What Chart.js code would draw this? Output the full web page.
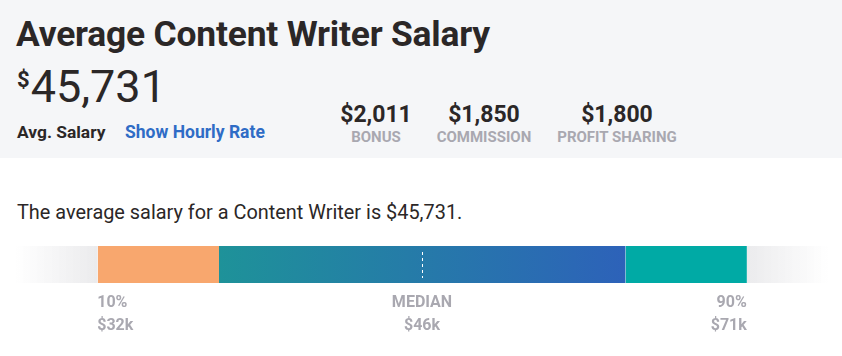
<!DOCTYPE html>
<html>
<head>
<meta charset="utf-8">
<script src="https://cdn.jsdelivr.net/npm/chart.js@4.4.1/dist/chart.umd.min.js"></script>
<style>
  html, body { margin:0; padding:0; width:842px; height:356px; background:#fff; overflow:hidden; font-family: Roboto, "Open Sans", sans-serif; }
  #head { position:absolute; left:0; top:0; width:842px; height:158px; background:#f5f6f8; }
  .t { position:absolute; white-space:nowrap; }
  #title { left:16px; top:13px; font-size:35.4px; font-weight:700; color:#2b2727; letter-spacing:-0.2px; }
  #avg { left:17px; top:60px; font-size:45px; font-weight:400; color:#2b2727; }
  #avg sup { font-size:22px; font-weight:700; vertical-align:top; position:relative; top:7px; margin-right:1px; }
  #avgl { left:17px; top:122px; font-size:17.4px; font-weight:700; color:#2b2727; }
  #hour { left:125px; top:122px; font-size:17.5px; font-weight:700; color:#2f6cc6; }
  .stat { position:absolute; top:101px; text-align:center; transform:translateX(-50%); white-space:nowrap; }
  .stat .v { font-size:23px; font-weight:700; color:#2b2727; line-height:28px; }
  .stat .l { font-size:15px; font-weight:700; color:#a9a8b0; line-height:17px; }
  #desc { left:17px; top:201px; font-size:19.9px; color:#2b2727; }
  #wrap { position:absolute; left:0; top:236px; width:842px; height:110px; }
</style>
</head>
<body>
<div id="head"></div>
<div class="t" id="title">Average Content Writer Salary</div>
<div class="t" id="avg"><sup>$</sup>45,731</div>
<div class="t" id="avgl">Avg. Salary</div>
<div class="t" id="hour">Show Hourly Rate</div>
<div class="stat" style="left:376px"><div class="v">$2,011</div><div class="l">BONUS</div></div>
<div class="stat" style="left:484px"><div class="v">$1,850</div><div class="l">COMMISSION</div></div>
<div class="stat" style="left:617px"><div class="v">$1,800</div><div class="l">PROFIT SHARING</div></div>
<div class="t" id="desc">The average salary for a Content Writer is $45,731.</div>
<div id="wrap"><canvas id="c"></canvas></div>
<script>
// Percentile breakpoints of the range bar
const breakpoints = [0, 10, 25, 75, 90, 100];
const segmentNames = ['low', 'p10-p25', 'p25-p75', 'p75-p90', 'high'];
// Labels under the bar
const labelPercentiles = [10, 50, 90];
const labelNames = ['10%', 'MEDIAN', '90%'];
const labelValues = ['$32k', '$46k', '$71k'];
const medianPercentile = 50;

const widths = segmentNames.map((_, i) => breakpoints[i + 1] - breakpoints[i]);

function grad(ctx, from, to, c1, c2) {
  const chart = ctx.chart;
  const area = chart.chartArea;
  if (!area) return c1;
  const xs = chart.scales.x;
  const g = chart.ctx.createLinearGradient(xs.getPixelForValue(from), 0, xs.getPixelForValue(to), 0);
  g.addColorStop(0, c1);
  g.addColorStop(1, c2);
  return g;
}

const colors = [
  ctx => grad(ctx, breakpoints[0], breakpoints[1], 'rgba(235,235,237,0)', '#ebebed'),
  '#f8a76e',
  ctx => grad(ctx, breakpoints[2], breakpoints[3], '#1e9299', '#2d62b9'),
  '#00aaa5',
  ctx => grad(ctx, breakpoints[4], breakpoints[5], '#ebebed', 'rgba(235,235,237,0)')
];
const leftBorders = [0, 1, 0, 1, 0];

const datasets = segmentNames.map((n, i) => ({
  label: n,
  data: [widths[i]],
  backgroundColor: colors[i],
  borderColor: '#ffffff',
  borderWidth: { left: leftBorders[i], right: 0, top: 0, bottom: 0 },
  borderSkipped: false,
  barPercentage: 1,
  categoryPercentage: 1
}));

const overlay = {
  id: 'overlay',
  afterDatasetsDraw(chart) {
    const { ctx, chartArea } = chart;
    const xs = chart.scales.x;
    const mx = Math.round(xs.getPixelForValue(medianPercentile)) + 0.5;
    ctx.save();
    ctx.strokeStyle = '#ffffff';
    ctx.lineWidth = 1;
    ctx.setLineDash([3, 3]);
    ctx.beginPath();
    ctx.moveTo(mx, chartArea.top + 6);
    ctx.lineTo(mx, chartArea.bottom - 5);
    ctx.stroke();
    ctx.restore();

    ctx.save();
    ctx.fillStyle = '#a9a8b0';
    ctx.font = '700 16px Roboto';
    ctx.textBaseline = 'middle';
    labelPercentiles.forEach((p, i) => {
      const x = xs.getPixelForValue(p);
      ctx.textAlign = i === 0 ? 'left' : (i === labelPercentiles.length - 1 ? 'right' : 'center');
      ctx.fillText(labelNames[i], x, chartArea.bottom + 20);
      ctx.fillText(labelValues[i], x, chartArea.bottom + 43);
    });
    ctx.restore();
  }
};

new Chart(document.getElementById('c'), {
  type: 'bar',
  data: { labels: ['salary'], datasets },
  options: {
    indexAxis: 'y',
    responsive: true,
    maintainAspectRatio: false,
    animation: false,
    events: [],
    layout: { padding: { left: 16, right: 14, top: 10, bottom: 63 } },
    plugins: { legend: { display: false }, tooltip: { enabled: false } },
    scales: {
      x: { stacked: true, min: 0, max: 100, display: false },
      y: { stacked: true, display: false }
    }
  },
  plugins: [overlay]
});
</script>
</body>
</html>
